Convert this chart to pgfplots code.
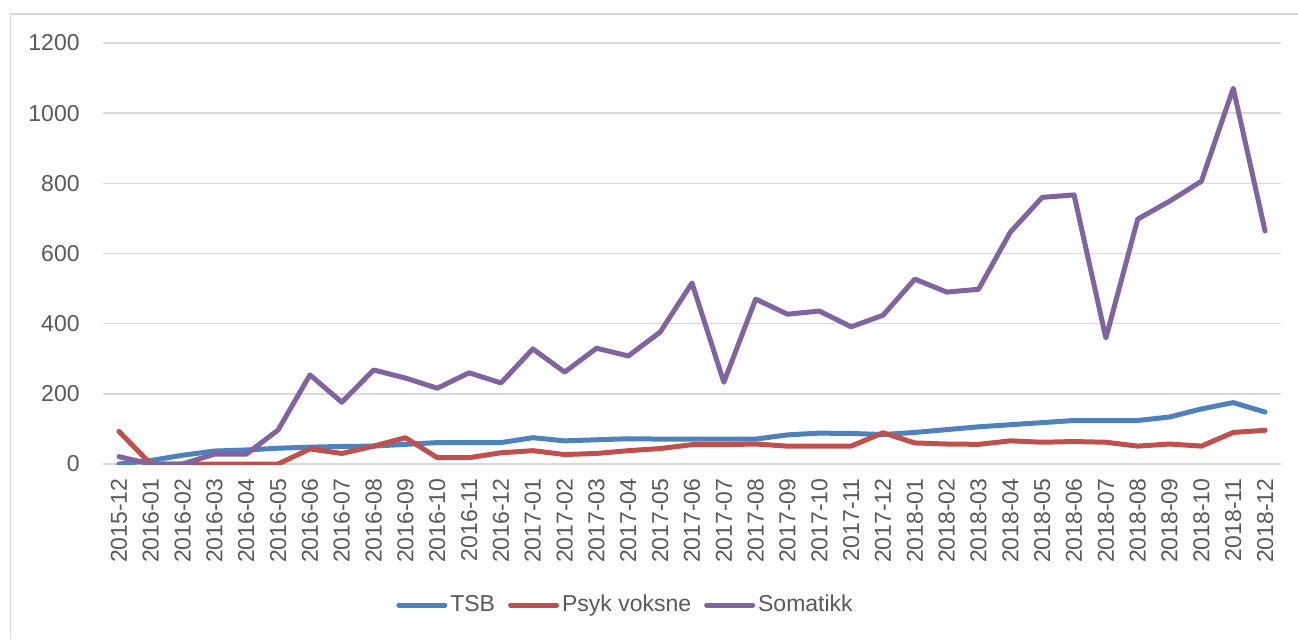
\documentclass[border=0pt]{standalone}
\usepackage{fontspec}
\setmainfont{Liberation Sans}
\usepackage{pgfplots}
\pgfplotsset{compat=1.18}
\definecolor{tsbc}{HTML}{4F81BD}
\definecolor{psykc}{HTML}{C0504D}
\definecolor{somc}{HTML}{8064A2}
\definecolor{gridc}{HTML}{D9D9D9}
\definecolor{textc}{HTML}{595959}

\begin{document}
\begin{tikzpicture}[x=1pt,y=1pt]
\useasboundingbox (0,0) rectangle (649,319.5);
\draw[gridc, line width=0.75pt] (5.25,0) -- (5.25,312.5) -- (649,312.5);
\begin{axis}[
    at={(51.5pt,87.5pt)}, anchor=south west,
    scale only axis,
    width=589pt, height=210.5pt,
    xmin=-0.5, xmax=36.5,
    ymin=0, ymax=1200,
    ytick={0,200,...,1200},
    xtick={0,...,36},
    xticklabels={2015-12,2016-01,2016-02,2016-03,2016-04,2016-05,2016-06,2016-07,2016-08,2016-09,2016-10,2016-11,2016-12,2017-01,2017-02,2017-03,2017-04,2017-05,2017-06,2017-07,2017-08,2017-09,2017-10,2017-11,2017-12,2018-01,2018-02,2018-03,2018-04,2018-05,2018-06,2018-07,2018-08,2018-09,2018-10,2018-11,2018-12},
    axis line style={draw=none},
    tick style={draw=none},
    ymajorgrids,
    grid style={gridc, line width=0.75pt},
    /pgf/number format/assume math mode=true,
    /pgf/number format/1000 sep={},
    tick label style={font=\fontsize{11.5}{14}\selectfont, text=textc},
    yticklabel style={inner sep=0pt, xshift=-11.5pt},
    xticklabel style={inner sep=0pt, yshift=-7pt, rotate=90, anchor=east},
    legend style={at={(rel axis cs:0.444,-0.335)}, anchor=center, draw=none, fill=none,
        font=\fontsize{11.5}{14}\selectfont, text=textc, inner sep=0pt,
        nodes={inner sep=1.5pt},
        /tikz/every even column/.append style={column sep=5pt}},
    legend columns=3,
    legend image code/.code={\draw[#1, line cap=round] (0pt,0pt) -- (23pt,0pt);},
    every axis plot/.append style={line width=2.5pt, line join=round, line cap=round},
]
\addplot[tsbc] coordinates {
(0,0) (1,10) (2,25) (3,37) (4,40) (5,45) (6,48) (7,50) (8,51) (9,56)
(10,61) (11,61) (12,61) (13,75) (14,66) (15,69) (16,72) (17,71) (18,71) (19,71)
(20,71) (21,83) (22,88) (23,87) (24,84) (25,90) (26,98) (27,106) (28,112) (29,118)
(30,124) (31,124) (32,124) (33,134) (34,157) (35,175) (36,148)
};
\addlegendentry{TSB}
\addplot[psykc] coordinates {
(0,93) (1,0) (2,0) (3,0) (4,0) (5,0) (6,43) (7,30) (8,51) (9,75)
(10,18) (11,18) (12,32) (13,38) (14,27) (15,30) (16,38) (17,44) (18,55) (19,55)
(20,57) (21,51) (22,51) (23,51) (24,89) (25,60) (26,57) (27,56) (28,66) (29,62)
(30,64) (31,62) (32,51) (33,57) (34,51) (35,90) (36,96)
};
\addlegendentry{Psyk voksne}
\addplot[somc] coordinates {
(0,21) (1,0) (2,0) (3,28) (4,28) (5,97) (6,254) (7,176) (8,268) (9,245)
(10,216) (11,260) (12,231) (13,328) (14,262) (15,330) (16,308) (17,376) (18,516) (19,233)
(20,470) (21,427) (22,436) (23,391) (24,424) (25,527) (26,490) (27,498) (28,661) (29,760)
(30,767) (31,359) (32,698) (33,749) (34,806) (35,1071) (36,664)
};
\addlegendentry{Somatikk}
\end{axis}
\end{tikzpicture}
\end{document}
